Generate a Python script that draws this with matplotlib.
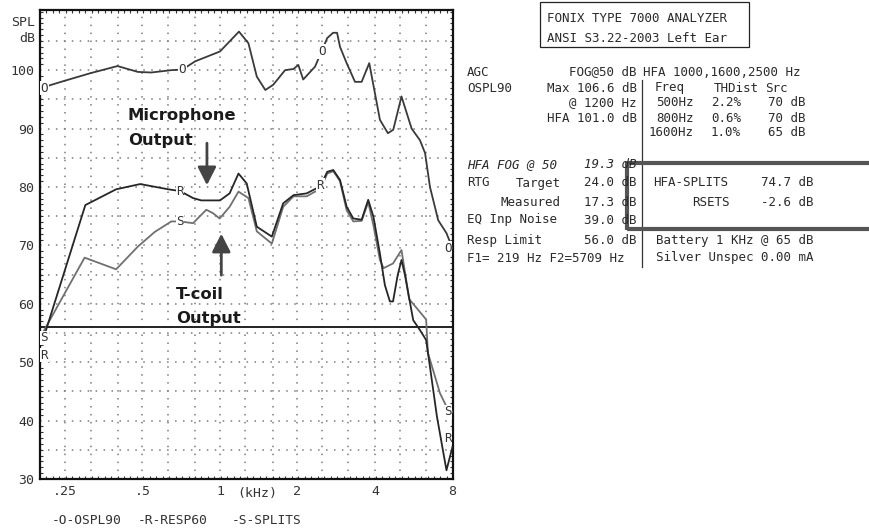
import matplotlib
matplotlib.use("Agg")
import matplotlib.pyplot as plt
from matplotlib.lines import Line2D
from matplotlib.patches import Rectangle
from matplotlib.ticker import FixedLocator, MultipleLocator, NullFormatter

# ---------------- data ----------------
ospl_f = [200, 250, 315, 400, 480, 541, 647, 715, 800, 1000, 1185, 1290, 1390, 1500,
          1610, 1790, 1930, 2015, 2105, 2340, 2480, 2610, 2750, 2850, 2925, 3105,
          3345, 3550, 3800, 4000, 4180, 4490, 4710, 5070, 5550, 5980, 6260, 6540,
          7040, 7580, 8000]
ospl_db = [96.9, 98.2, 99.5, 100.7, 99.7, 99.6, 100.0, 100.1, 101.5, 103.2, 106.6,
           104.6, 98.9, 96.6, 97.5, 100.0, 100.2, 100.9, 98.4, 100.6, 103.2, 105.5,
           106.4, 106.4, 104.0, 101.2, 98.0, 98.0, 101.2, 96.0, 91.5, 89.2, 89.8,
           95.5, 90.0, 88.0, 85.8, 80.0, 74.3, 72.1, 69.5]

resp_f = [208, 300, 395, 490, 630, 700, 786, 846, 1000, 1090, 1180, 1270, 1390, 1590,
          1760, 1930, 2170, 2450, 2610, 2755, 2925, 3105, 3295, 3550, 3765, 3945,
          4180, 4370, 4570, 4700, 4900, 5070, 5230, 5630, 5980, 6320, 6540, 6960,
          7580, 8000]
resp_db = [54.6, 76.9, 79.6, 80.5, 79.6, 79.3, 78.1, 77.7, 77.7, 78.9, 82.3, 80.6,
           73.2, 71.5, 77.2, 78.6, 78.9, 80.1, 82.6, 82.9, 81.2, 76.6, 74.6, 74.4,
           77.8, 74.9, 68.6, 63.2, 60.4, 60.4, 64.9, 67.5, 64.9, 57.2, 55.5, 53.8,
           49.2, 40.7, 31.5, 35.5]

splits_f = [206, 298, 395, 480, 558, 647, 700, 786, 885, 940, 997, 1090, 1180, 1290,
            1390, 1590, 1760, 1930, 2170, 2340, 2450, 2610, 2755, 2925, 3105, 3295,
            3550, 3765, 3945, 4180, 4320, 4700, 5070, 5430, 5900, 6320, 6420, 6720,
            7150, 7580, 8000]
splits_db = [55.2, 67.9, 65.9, 69.8, 72.3, 74.1, 74.1, 73.8, 76.1, 75.5, 74.6, 76.6,
             79.2, 78.1, 72.4, 70.3, 76.6, 78.4, 78.4, 79.2, 79.5, 82.3, 82.7, 81.0,
             76.0, 74.1, 74.2, 77.4, 73.4, 67.5, 66.1, 66.9, 69.2, 60.8, 58.9, 57.3,
             51.6, 48.7, 44.7, 42.4, 41.5]

resp_limit = 56.0
grid_freqs = [250, 315, 400, 500, 630, 800, 1000, 1250, 1600, 2000, 2500, 3150,
              4000, 5000, 6300]
xtick_vals = [250, 500, 1000, 2000, 4000, 8000]
xtick_labels = [".25", ".5", "1", "2", "4", "8"]
ytick_vals = [30, 40, 50, 60, 70, 80, 90, 100]

# curve letter labels: (letter, freq, dB)
curve_marks = [("O", 715, 100.1), ("O", 2480, 103.2), ("R", 700, 79.3), ("R", 2450, 80.3),
               ("S", 700, 74.1)]
left_marks = [("O", 96.9), ("S", 54.2), ("R", 51.2)]
right_marks = [("O", 69.5), ("S", 41.5), ("R", 37.0)]

W, H = 870, 531
fig = plt.figure(figsize=(W / 100, H / 100), dpi=100)
fig.patch.set_facecolor("white")


def fx(x):
    return x / W


def fy(y):
    return 1 - y / H


ax = fig.add_axes([fx(40), fy(479), (452.5 - 40) / W, (479 - 10) / H])
ax.set_xscale("log")
ax.set_xlim(200, 8000)
ax.set_ylim(30, 110.3)

mono = "DejaVu Sans Mono"
txtc = "#2a2a2a"

# grid
for yv in range(35, 110, 5):
    ax.axhline(yv, color="#7a7a7a", lw=1.1, ls=(0, (1, 4.2)), zorder=1)
for fv in grid_freqs:
    ax.axvline(fv, color="#7a7a7a", lw=1.1, ls=(0, (1, 4.2)), zorder=1)

ax.axhline(resp_limit, color="#222222", lw=1.4, zorder=2)

ax.plot(ospl_f, ospl_db, color="#3a3a3a", lw=1.3, zorder=3)
ax.plot(splits_f, splits_db, color="#707070", lw=1.3, zorder=3)
ax.plot(resp_f, resp_db, color="#262626", lw=1.3, zorder=4)

lab_kw = dict(family=mono, fontsize=9, color="#333333", zorder=6,
              bbox=dict(boxstyle="square,pad=0.05", fc="white", ec="none"))
for s, f, d in curve_marks:
    ax.text(f, d, s, ha="center", va="center", **lab_kw)
for s, d in left_marks:
    ax.text(201, d, s, ha="left", va="center", **lab_kw)
for s, d in right_marks:
    ax.text(7950, d, s, ha="right", va="center", **lab_kw)

# axes styling
for sp in ax.spines.values():
    sp.set_linewidth(1.6)
    sp.set_color("#111111")
ax.set_xticks(xtick_vals)
ax.set_xticklabels(xtick_labels)
ax.xaxis.set_minor_locator(FixedLocator([200 * 2 ** (k / 12) for k in range(1, 64)]))
ax.xaxis.set_minor_formatter(NullFormatter())
ax.set_yticks(ytick_vals)
ax.set_yticklabels([str(v) for v in ytick_vals])
ax.yaxis.set_minor_locator(MultipleLocator(1))
ax.tick_params(which="major", length=0, pad=4, labelsize=9.5, labelcolor="#333333")
ax.tick_params(which="minor", direction="in", length=2.5, width=0.8, color="#333333",
               top=True, right=True, bottom=True, left=True)
for t in ax.get_xticklabels() + ax.get_yticklabels():
    t.set_family(mono)

ax.text(1390, -0.018, "(kHz)", transform=ax.get_xaxis_transform(), ha="center",
        va="top", family=mono, fontsize=9.5, color="#333333")

fig.text(fx(35), fy(22), "SPL", ha="right", va="center", family=mono, fontsize=9.5,
         color="#333333")
fig.text(fx(35), fy(39), "dB", ha="right", va="center", family=mono, fontsize=9.5,
         color="#333333")

# legend line
for xx, s in [(52, "-O-OSPL90"), (138, "-R-RESP60"), (232, "-S-SPLITS")]:
    fig.text(fx(xx), fy(520), s, ha="left", va="center", family=mono, fontsize=9.3,
             color="#333333")

# annotations
ann_font = dict(family="DejaVu Sans", fontweight="bold", fontsize=11.8, color="#1a1a1a")
ax.text(439, 92.2, "Microphone", ha="left", va="center", zorder=7, **ann_font)
ax.text(439, 87.9, "Output", ha="left", va="center", zorder=7, **ann_font)
ax.text(675, 61.6, "T-coil", ha="left", va="center", zorder=7, **ann_font)
ax.text(675, 57.5, "Output", ha="left", va="center", zorder=7, **ann_font)
arrow_kw = dict(arrowstyle="-|>,head_length=0.55,head_width=0.28", color="#444444",
                lw=2.0, mutation_scale=20, shrinkA=0, shrinkB=0)
ax.annotate("", xy=(890, 80.3), xytext=(890, 87.5), arrowprops=arrow_kw, zorder=7)
ax.annotate("", xy=(1012, 72.0), xytext=(1012, 64.9), arrowprops=arrow_kw, zorder=7)

# ---------------- right-hand text panel ----------------
pk = dict(family=mono, fontsize=9.0, color=txtc, va="center")

fig.add_artist(Rectangle((fx(540), fy(47)), (749 - 540) / W, (47 - 2) / H, fill=False,
                         lw=0.9, ec="#222222"))
fig.text(fx(547), fy(18), "FONIX TYPE 7000 ANALYZER", ha="left", **pk)
fig.text(fx(547), fy(38), "ANSI S3.22-2003 Left Ear", ha="left", **pk)

left_rows = [
    (72, "AGC", "FOG@50 dB", False),
    (88, "OSPL90", "Max 106.6 dB", False),
    (103, "", "@ 1200 Hz", False),
    (118, "", "HFA 101.0 dB", False),
    (165, "HFA FOG @ 50", "19.3 dB", True),
    (183, "RTG", "24.0 dB", False),
    (202, "", "17.3 dB", False),
    (220, "EQ Inp Noise", "39.0 dB", False),
    (240, "Resp Limit", "56.0 dB", False),
]
for y, l, r, it in left_rows:
    st = "italic" if it else "normal"
    if l:
        fig.text(fx(467), fy(y), l, ha="left", style=st, **pk)
    fig.text(fx(637), fy(y), r, ha="right", style=st, **pk)
fig.text(fx(561), fy(183), "Target", ha="right", **pk)
fig.text(fx(561), fy(202), "Measured", ha="right", **pk)
fig.text(fx(467), fy(258), "F1= 219 Hz F2=5709 Hz", ha="left", **pk)

fig.text(fx(643), fy(72), "HFA 1000,1600,2500 Hz", ha="left", **pk)
fig.text(fx(655), fy(88), "Freq", ha="left", **pk)
fig.text(fx(714), fy(88), "THDist", ha="left", **pk)
fig.text(fx(765), fy(88), "Src", ha="left", **pk)
thd_rows = [(103, "500Hz", "2.2%", "70 dB"), (118, "800Hz", "0.6%", "70 dB"),
            (133, "1600Hz", "1.0%", "65 dB")]
for y, a, b, c in thd_rows:
    fig.text(fx(694), fy(y), a, ha="right", **pk)
    fig.text(fx(741), fy(y), b, ha="right", **pk)
    fig.text(fx(806), fy(y), c, ha="right", **pk)
fig.text(fx(653), fy(183), "HFA-SPLITS", ha="left", **pk)
fig.text(fx(814), fy(183), "74.7 dB", ha="right", **pk)
fig.text(fx(730), fy(202), "RSETS", ha="right", **pk)
fig.text(fx(814), fy(202), "-2.6 dB", ha="right", **pk)
fig.text(fx(656), fy(240), "Battery 1 KHz @ 65 dB", ha="left", **pk)
fig.text(fx(656), fy(258), "Silver Unspec 0.00 mA", ha="left", **pk)

fig.add_artist(Line2D([fx(642), fx(642)], [fy(80), fy(267)], lw=0.9, color="#333333"))

# highlight box
bc = "#555555"
fig.add_artist(Line2D([fx(627), fx(870)], [fy(163), fy(163)], lw=3.0, color=bc,
                      solid_capstyle="butt"))
fig.add_artist(Line2D([fx(627), fx(870)], [fy(229), fy(229)], lw=3.0, color=bc,
                      solid_capstyle="butt"))
fig.add_artist(Line2D([fx(627), fx(627)], [fy(161.9), fy(230.1)], lw=3.0, color=bc,
                      solid_capstyle="butt"))

fig.savefig("out.png", dpi=100, facecolor="white")
